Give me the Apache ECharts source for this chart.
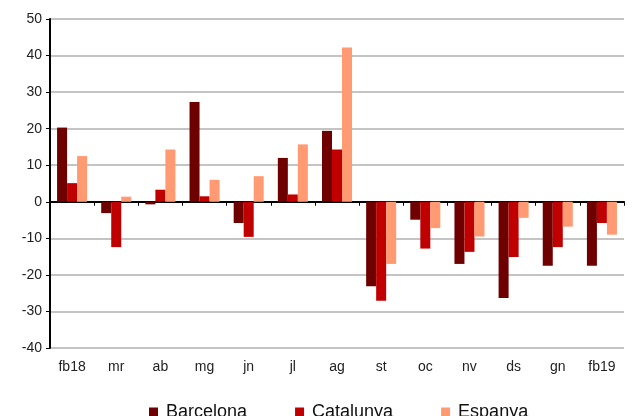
<!DOCTYPE html>
<html>
<head>
<meta charset="utf-8">
<script src="https://cdn.jsdelivr.net/npm/echarts@6/dist/echarts.min.js"></script>
<style>
html, body { margin: 0; padding: 0; background: #fff; }
#chart { width: 633px; height: 416px; }
</style>
</head>
<body>
<div id="chart"></div>
<script>
const months = ['fb18', 'mr', 'ab', 'mg', 'jn', 'jl', 'ag', 'st', 'oc', 'nv', 'ds', 'gn', 'fb19']
const barcelona = [20.3, -3.1, -0.7, 27.3, -5.8, 12.0, 19.4, -23.1, -4.9, -17.0, -26.3, -17.5, -17.5]
const catalunya = [5.1, -12.4, 3.3, 1.5, -9.6, 2.0, 14.3, -27.1, -12.8, -13.7, -15.1, -12.4, -5.8]
const espanya = [12.5, 1.4, 14.3, 6.0, 7.0, 15.7, 42.2, -17.0, -7.2, -9.5, -4.4, -6.8, -9.0]

const chart = echarts.init(document.getElementById('chart'))
const font = 'Liberation Sans, Arial, sans-serif'

const bar = (name, data, color) => ({
    name: name,
    type: 'bar',
    data: data,
    barGap: '0%',
    barCategoryGap: '32%',
    itemStyle: {color: color},
    xAxisIndex: 0
})

const option = {
    animation: false,
    textStyle: {fontFamily: font},
    grid: {left: 50, right: 9, top: 19, bottom: 68},
    legend: {
        left: 144,
        top: 398,
        itemWidth: 9,
        itemHeight: 9,
        itemGap: 48,
        icon: 'rect',
        textStyle: {fontSize: 18, color: '#111', fontFamily: font, padding: [0, 0, 0, 3]},
        data: ['Barcelona', 'Catalunya', 'Espanya']
    },
    xAxis: [
        {
            type: 'category',
            data: months,
            axisLine: {onZero: true, lineStyle: {color: '#000', width: 2}},
            axisTick: {show: true, length: 4, lineStyle: {color: '#000'}},
            axisLabel: {show: false}
        },
        {
            type: 'category',
            data: months,
            position: 'bottom',
            axisLine: {show: false},
            axisTick: {show: false},
            axisLabel: {fontSize: 14, color: '#222', margin: 12, fontFamily: font}
        }
    ],
    yAxis: {
        type: 'value',
        min: -40,
        max: 50,
        interval: 10,
        axisLine: {show: true, lineStyle: {color: '#000', width: 2}},
        axisTick: {show: true, length: 4, lineStyle: {color: '#000'}},
        axisLabel: {fontSize: 14, color: '#222', margin: 8, fontFamily: font},
        splitLine: {lineStyle: {color: '#c4c4c4', width: 2}}
    },
    series: [
        bar('Barcelona', barcelona, '#6e0000'),
        bar('Catalunya', catalunya, '#c00000'),
        bar('Espanya', espanya, '#ff9a72')
    ]
}

chart.setOption(option)
</script>
</body>
</html>
